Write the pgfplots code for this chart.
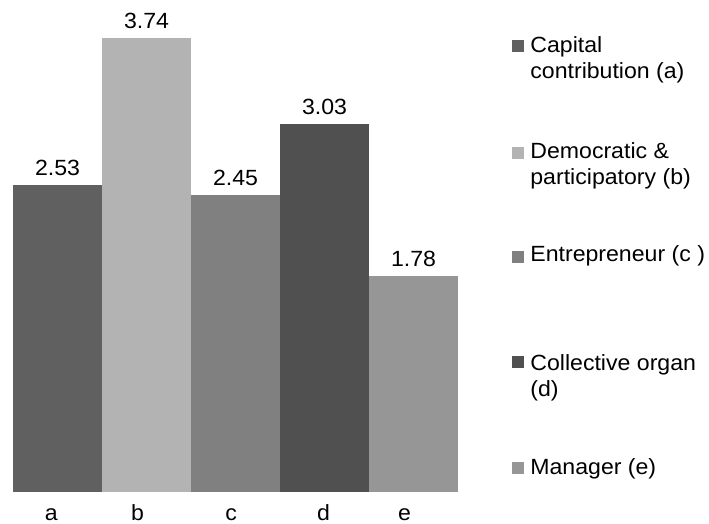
\documentclass[border=0pt]{standalone}
\usepackage{fontspec}
\setmainfont{Liberation Sans}[FakeStretch=1.05]
\usepackage{pgfplots}
\pgfplotsset{compat=1.18}

\definecolor{ca}{HTML}{606060}
\definecolor{cb}{HTML}{B3B3B3}
\definecolor{cc}{HTML}{808080}
\definecolor{cd}{HTML}{505050}
\definecolor{ce}{HTML}{969696}

\begin{document}
\fontsize{11}{13}\selectfont
\begin{tikzpicture}[x=1pt,y=1pt]
  \useasboundingbox (0,0) rectangle (354.5,262);
  \begin{axis}[
      at={(6.5pt,16pt)}, anchor=south west,
      scale only axis,
      width=222.5pt, height=242.8pt,
      xmin=-0.5, xmax=4.5, ymin=0, ymax=4,
      ybar, bar width=44.5pt, bar shift=0pt,
      axis line style={draw=none},
      tick style={draw=none},
      ytick=\empty,
      xtick={-0.07,0.9,1.95,2.99,3.9},
      xticklabels={a,b,c,d,e},
      xticklabel style={anchor=base, yshift=-10pt, inner sep=0pt},
      /pgf/number format/assume math mode=true,
      nodes near coords={\pgfmathprintnumber[fixed,fixed zerofill,precision=2]{\pgfplotspointmeta}},
      every node near coord/.append style={inner ysep=0pt, yshift=4.4pt, text=black},
      clip=false,
    ]
    \addplot[fill=ca, draw=none] coordinates {(0,2.53)};
    \addplot[fill=cb, draw=none] coordinates {(1,3.74)};
    \addplot[fill=cc, draw=none] coordinates {(2,2.45)};
    \addplot[fill=cd, draw=none] coordinates {(3,3.03)};
    \addplot[fill=ce, draw=none] coordinates {(4,1.78)};
  \end{axis}

  % legend
  \fill[ca] (256,235.75) rectangle ++(6,6);
  \node[anchor=base west, inner sep=0pt] at (265,235.5) {Capital};
  \node[anchor=base west, inner sep=0pt] at (265,222.5) {contribution (a)};
  \fill[cb] (256,182.5) rectangle ++(6,6);
  \node[anchor=base west, inner sep=0pt] at (265,182.5) {Democratic \&};
  \node[anchor=base west, inner sep=0pt] at (265,169.5) {participatory (b)};
  \fill[cc] (256,130.25) rectangle ++(6,6);
  \node[anchor=base west, inner sep=0pt] at (265,131) {Entrepreneur (c )};
  \fill[cd] (256,77.75) rectangle ++(6,6);
  \node[anchor=base west, inner sep=0pt] at (265,76.75) {Collective organ};
  \node[anchor=base west, inner sep=0pt] at (265,63.75) {(d)};
  \fill[ce] (256,25) rectangle ++(6,6);
  \node[anchor=base west, inner sep=0pt] at (265,24.5) {Manager (e)};
\end{tikzpicture}
\end{document}
